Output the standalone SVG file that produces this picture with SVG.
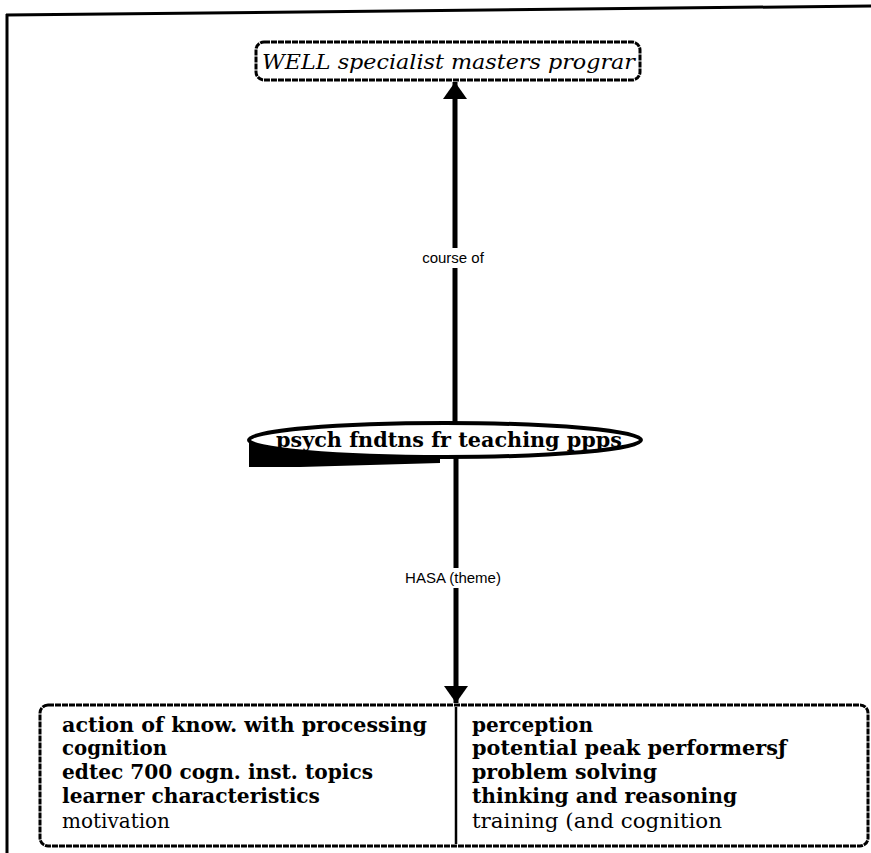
<svg xmlns="http://www.w3.org/2000/svg" width="871" height="853" viewBox="0 0 871 853">
<style>
.frame{stroke:#000;stroke-width:3;fill:none}
.edge{stroke:#000;stroke-width:5;fill:none}
.lbl{font-family:"Liberation Sans",Arial,sans-serif;font-size:15px;fill:#000}
.box{fill:#fff;stroke:#000;stroke-width:3}
.t{font-family:"DejaVu Serif","Liberation Serif",serif;font-size:20px;fill:#000;font-weight:bold}
.tr{font-family:"DejaVu Serif","Liberation Serif",serif;font-size:20px;fill:#000}
</style>
<defs>
<marker id="ah" markerWidth="17" markerHeight="24" refX="17" refY="12" orient="auto" markerUnits="userSpaceOnUse">
<path d="M0,0 L17,12 L0,24 z" fill="#000"/>
</marker>
</defs>
<rect width="871" height="853" fill="#fff"/>
<g id="frame">
<path class="frame" d="M6,15 L871,6"/>
<path class="frame" d="M7,14 L7,853" stroke-width="2"/>
</g>
<g id="connectors">
<path class="edge" d="M455,423 L455,82" marker-end="url(#ah)"/>
<path class="edge" d="M456,458 L456,703" marker-end="url(#ah)"/>
<rect x="408" y="248" width="90" height="20" fill="#fff"/>
<text class="lbl" x="453" y="263" text-anchor="middle">course of</text>
<rect x="386" y="568" width="134" height="20" fill="#fff"/>
<text class="lbl" x="453" y="583" text-anchor="middle">HASA (theme)</text>
</g>
<g id="node-psych">
<path d="M249,442 L249,467 L300,467 L440,463 L440,456 Z" fill="#000"/>
<ellipse cx="445" cy="440" rx="196" ry="17" fill="#fff" stroke="#000" stroke-width="4"/>
<text class="t" x="276" y="447" textLength="346" lengthAdjust="spacingAndGlyphs">psych fndtns fr teaching ppps</text>
</g>
<g id="node-well">
<rect class="box" x="256" y="42" width="384" height="38" rx="8" stroke-dasharray="6 1"/>
<text x="262" y="69" font-family="DejaVu Serif, Liberation Serif, serif" font-style="italic" font-size="20" textLength="373" lengthAdjust="spacingAndGlyphs">WELL specialist masters prograr</text>
</g>
<g id="node-themes">
<rect class="box" x="40" y="705" width="828" height="141" rx="8" stroke-dasharray="6 1"/>
<path d="M456,707 L456,844" stroke="#000" stroke-width="2.5"/>
<text class="t" x="62" y="732" textLength="365" lengthAdjust="spacingAndGlyphs">action of know. with processing</text>
<text class="t" x="62" y="755" textLength="105" lengthAdjust="spacingAndGlyphs">cognition</text>
<text class="t" x="62" y="779" textLength="311" lengthAdjust="spacingAndGlyphs">edtec 700 cogn. inst. topics</text>
<text class="t" x="62" y="803" textLength="258" lengthAdjust="spacingAndGlyphs">learner characteristics</text>
<text class="tr" x="62" y="828" textLength="108" lengthAdjust="spacingAndGlyphs">motivation</text>
<text class="t" x="472" y="732" textLength="121" lengthAdjust="spacingAndGlyphs">perception</text>
<text class="t" x="472" y="755" textLength="315" lengthAdjust="spacingAndGlyphs">potential peak performersƒ</text>
<text class="t" x="472" y="779" textLength="185" lengthAdjust="spacingAndGlyphs">problem solving</text>
<text class="t" x="472" y="803" textLength="265" lengthAdjust="spacingAndGlyphs">thinking and reasoning</text>
<text class="tr" x="472" y="828" textLength="250" lengthAdjust="spacingAndGlyphs">training (and cognition</text>
</g>
</svg>
